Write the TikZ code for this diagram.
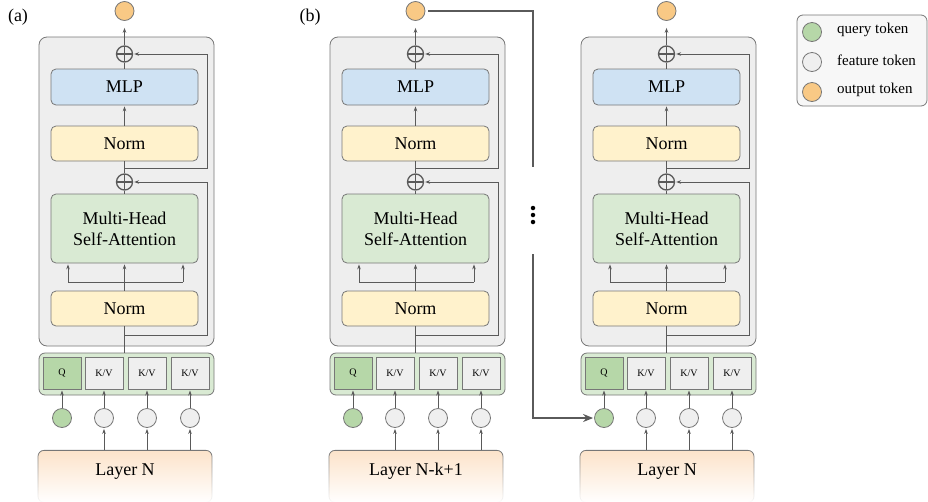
\documentclass[tikz,border=0pt]{standalone}
\usepackage{fontspec}
\setmainfont{Liberation Serif}
\usetikzlibrary{arrows.meta,fadings,calc}

\definecolor{linegray}{HTML}{5A5A5A}
\definecolor{boxgray}{HTML}{777777}
\definecolor{panelgray}{HTML}{EEEEEE}
\definecolor{mlpblue}{HTML}{CFE2F3}
\definecolor{normyellow}{HTML}{FFF2CC}
\definecolor{attngreen}{HTML}{D9EAD3}
\definecolor{qgreen}{HTML}{B6D7A8}
\definecolor{featgray}{HTML}{EFEFEF}
\definecolor{outorange}{HTML}{F9C985}
\definecolor{layerorange}{HTML}{FCE3CA}

% layer boxes stay solid at the top and dissolve towards the bottom
\tikzfading[name=layerfade, top color=transparent!0, middle color=transparent!15,
  bottom color=transparent!100]

\tikzset{
  base/.style={font=\fontsize{18}{21}\selectfont},
  outerbox/.style={draw=boxgray, fill=panelgray, rounded corners=8pt, line width=0.8pt,
    minimum width=175pt, minimum height=309pt, inner sep=0pt},
  block/.style={draw=boxgray, rounded corners=5pt, line width=0.8pt,
    minimum width=147pt, inner sep=0pt, align=center},
  grpbox/.style={draw=boxgray, fill=attngreen, rounded corners=6pt, line width=0.8pt,
    minimum width=175pt, minimum height=42pt, inner sep=0pt},
  cell/.style={draw=boxgray, fill=featgray, line width=1pt, minimum width=38pt,
    minimum height=32pt, inner sep=0pt, font=\fontsize{10}{12}\selectfont},
  token/.style={circle, draw=boxgray, line width=0.8pt, minimum size=19pt, inner sep=0pt},
  addnode/.style={circle, draw=linegray, line width=1.3pt, minimum size=16pt, inner sep=0pt,
    path picture={\draw[linegray, line width=1.3pt]
      (path picture bounding box.north) -- (path picture bounding box.south)
      (path picture bounding box.west) -- (path picture bounding box.east);}},
  layerbox/.style={draw=boxgray, line width=0.8pt, rounded corners=6pt,
    fill=layerorange, path fading=layerfade,
    minimum width=174pt, inner xsep=0pt, inner ysep=0pt,
    text height=25pt, text depth=27pt, anchor=north},
  ln/.style={linegray, line width=0.8pt},
  arr/.style={ln, -{Stealth[length=5pt,width=3.6pt]}, shorten >=1pt},
  link/.style={linegray, line width=1.6pt},
  dotnode/.style={circle, fill=black, minimum size=4.5pt, inner sep=0pt},
  legendbox/.style={draw=boxgray, fill=white!97!black, rounded corners=6pt, line width=0.8pt,
    minimum width=130pt, minimum height=91pt, inner sep=0pt},
  legtext/.style={anchor=west, font=\fontsize{15}{17}\selectfont, inner sep=0pt},
}

\begin{document}
\begin{tikzpicture}[x=1pt, y=-1pt, base]
\useasboundingbox (0,0) rectangle (928,501);

\foreach \p/\dx/\lay in {a/0/{Layer N}, b/291/{Layer N-k+1}, c/542/{Layer N}}{
  \begin{scope}[xshift=\dx pt]
    % transformer block
    \node[outerbox] (\p-outer) at (126.5,191.5) {};
    \node[token, fill=outorange] (\p-out) at (124.5,11) {};
    \node[addnode] (\p-add2) at (124.5,54) {};
    \node[block, fill=mlpblue, minimum height=36pt] (\p-mlp) at (124.5,87) {MLP};
    \node[block, fill=normyellow, minimum height=35pt] (\p-norm2) at (124.5,143.5) {Norm};
    \node[addnode] (\p-add1) at (124.5,182) {};
    \node[block, fill=attngreen, minimum height=69pt] (\p-attn) at (124.5,228.5) {Multi-Head\\Self-Attention};
    \node[block, fill=normyellow, minimum height=35pt] (\p-norm1) at (124.5,308.5) {Norm};
    % token row
    \node[grpbox] (\p-grp) at (126.5,374) {};
    \node[cell, fill=qgreen] (\p-q) at (62,373) {Q};
    \node[cell] (\p-kv1) at (104,373) {K/V};
    \node[cell] (\p-kv2) at (147,373) {K/V};
    \node[cell] (\p-kv3) at (190,373) {K/V};
    \node[token, fill=qgreen] (\p-t0) at (62,418) {};
    \node[token, fill=featgray] (\p-t1) at (104,418) {};
    \node[token, fill=featgray] (\p-t2) at (147,418) {};
    \node[token, fill=featgray] (\p-t3) at (190,418) {};
    \node[layerbox] (\p-layer) at (125,450) {\lay};
    % connections
    \draw[arr] (\p-t0.north) -- (\p-q.south);
    \foreach \i in {1,2,3}{
      \draw[arr] (\p-t\i.north) -- (\p-kv\i.south);
      \draw[arr] (\p-t\i.south |- \p-layer.north) -- (\p-t\i.south);
    }
    \draw[ln] (\p-norm1.south |- \p-grp.north) -- (\p-norm1.south);
    \draw[arr] (\p-norm1.south |- 0,335) -| (207,182) -- (\p-add1.east);
    \draw[arr] (\p-norm1.north) -- (\p-attn.south);
    \draw[ln] (68,282) -- (183,282);
    \draw[arr] (68,282) -- (\p-attn.south -| 68,0);
    \draw[arr] (183,282) -- (\p-attn.south -| 183,0);
    \draw[ln] (\p-attn.north) -- (\p-add1.south);
    \draw[ln] (\p-add1.north) -- (\p-norm2.south);
    \draw[arr] (\p-norm2.south |- 0,168) -| (207,54) -- (\p-add2.east);
    \draw[arr] (\p-norm2.north) -- (\p-mlp.south);
    \draw[ln] (\p-mlp.north) -- (\p-add2.south);
    \draw[arr, shorten >=7pt] (\p-add2.north) -- (\p-out.south);
  \end{scope}
}

% panel labels
\node (lab-a) at (18,17) {(a)};
\node (lab-b) at (310,17) {(b)};

% skip connection between the two blocks of (b)
\coordinate (gapTop) at (533,167);
\coordinate (gapBot) at (533,254);
\draw[link, shorten <=3pt] (b-out.east) -| (gapTop);
\node[dotnode] (dot1) at (533,208) {};
\node[dotnode] (dot2) at (533,215) {};
\node[dotnode] (dot3) at (533,222) {};
\draw[link, -{Stealth[length=10pt,width=8pt]}, shorten >=1pt] (gapBot) |- (c-t0.west);

% legend
\node[legendbox] (legend) at (862,60.5) {};
\node[token, fill=qgreen] (leg-q) at (812,32) {};
\node[token, fill=featgray] (leg-f) at (812,62) {};
\node[token, fill=outorange] (leg-o) at (812,92) {};
\node[legtext] (leg-qt) at (837,30) {query token};
\node[legtext] (leg-ft) at (837,60) {feature token};
\node[legtext] (leg-ot) at (837,90) {output token};
\end{tikzpicture}
\end{document}
